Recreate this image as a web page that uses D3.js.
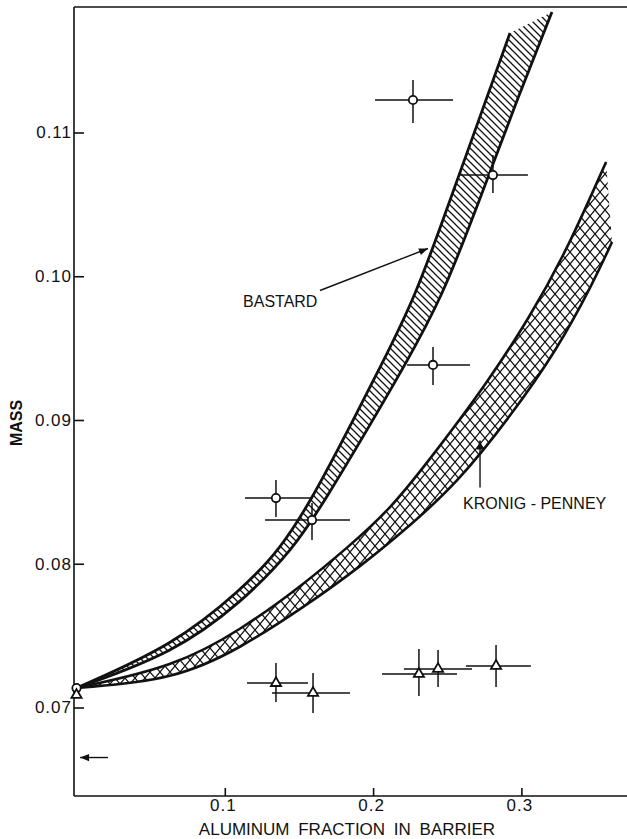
<!DOCTYPE html>
<html>
<head>
<meta charset="utf-8">
<script src="https://cdn.jsdelivr.net/npm/d3@7"></script>
<style>
  html, body { margin: 0; padding: 0; background: #fff; }
  svg { display: block; font-family: "Liberation Sans", Arial, sans-serif; }
  .tick text { font-size: 17px; letter-spacing: 1px; fill: #111; }
</style>
</head>
<body>
<div id="chart"></div>
<script>
// Bastard model band (upper / lower boundary)
const bastardUpperX = [0, 0.0657, 0.1109, 0.1372, 0.1595, 0.1831, 0.2067, 0.2282, 0.2471, 0.2640, 0.2761, 0.2923];
const bastardUpperY = [0.07136, 0.07435, 0.07817, 0.08096, 0.08464, 0.08930, 0.09405, 0.09856, 0.10391, 0.10878, 0.11226, 0.11692];
const bastardLowerX = [0, 0.0657, 0.1109, 0.1460, 0.1689, 0.1959, 0.2228, 0.2464, 0.2660, 0.2781, 0.2970, 0.3206];
const bastardLowerY = [0.07136, 0.07380, 0.07728, 0.08096, 0.08464, 0.08930, 0.09405, 0.09856, 0.10377, 0.10704, 0.11226, 0.11838];

// Kronig-Penney band
const kpUpperX = [0, 0.0657, 0.1109, 0.1534, 0.1824, 0.2114, 0.2431, 0.2768, 0.3058, 0.3308, 0.3571];
const kpUpperY = [0.07136, 0.07282, 0.07539, 0.07859, 0.08110, 0.08374, 0.08791, 0.09257, 0.09717, 0.10183, 0.10795];
const kpLowerX = [0, 0.0657, 0.1109, 0.1534, 0.1912, 0.2269, 0.2566, 0.2923, 0.3240, 0.3483, 0.3611];
const kpLowerY = [0.07136, 0.07191, 0.07414, 0.07699, 0.07977, 0.08283, 0.08562, 0.09021, 0.09487, 0.09953, 0.10238];

// measured points, circles
const circX   = [0, 0.1345, 0.1588, 0.2404, 0.2269, 0.2808];
const circY   = [0.07135, 0.08457, 0.08304, 0.09383, 0.11226, 0.10704];
const circXlo = [null, 0.1136, 0.1271, 0.2229, 0.2013, 0.2586];
const circXhi = [null, 0.1595, 0.1844, 0.2653, 0.2539, 0.3044];
const circYlo = [null, 0.08325, 0.08165, 0.09243, 0.11066, 0.10579];
const circYhi = [null, 0.08583, 0.08423, 0.09508, 0.11365, 0.10843];

// measured points, triangles
const triX   = [0, 0.1345, 0.1595, 0.2309, 0.2438, 0.2829];
const triY   = [0.07087, 0.07170, 0.07101, 0.07233, 0.07268, 0.07289];
const triXlo = [null, 0.1150, 0.1318, 0.2060, 0.2208, 0.2626];
const triXhi = [null, 0.1561, 0.1844, 0.2566, 0.2667, 0.3064];
const triYlo = [null, 0.07038, 0.06962, 0.07080, 0.07143, 0.07143];
const triYhi = [null, 0.07310, 0.07240, 0.07407, 0.07400, 0.07435];

// ticks
const xTicks = [0.1, 0.2, 0.3];
const yTicks = [0.07, 0.08, 0.09, 0.10, 0.11];

// annotations: [x0, y0, x1, y1] arrows, label anchors
const bastardArrow = [0.1642, 0.09901, 0.2370, 0.10193];
const kpArrow = [0.2721, 0.08530, 0.2721, 0.08857];
const bulkArrow = [0.0212, 0.06652, 0.0024, 0.06652];
const bastardLabel = { text: 'BASTARD', x: 0.1123, y: 0.09783 };
const kpLabel = { text: 'KRONIG - PENNEY', x: 0.2607, y: 0.08384 };

const width = 627, height = 839;
const frame = { left: 74, top: 7, right: 627, bottom: 796 };

const x = d3.scaleLinear().domain([0, 0.3]).range([76.5, 521.4]);
const y = d3.scaleLinear().domain([0.07, 0.11]).range([707.5, 132.5]);

const svg = d3.select('#chart').append('svg')
    .attr('width', width)
    .attr('height', height);

const defs = svg.append('defs');

// single hatch for Bastard
defs.append('pattern')
    .attr('id', 'hatch')
    .attr('patternUnits', 'userSpaceOnUse')
    .attr('width', 7).attr('height', 7)
  .append('path')
    .attr('d', 'M0,0L7,7M-1,6L1,8M6,-1L8,1')
    .attr('stroke', '#111')
    .attr('stroke-width', 1.3);

// cross hatch for Kronig-Penney
defs.append('pattern')
    .attr('id', 'cross')
    .attr('patternUnits', 'userSpaceOnUse')
    .attr('width', 10).attr('height', 12)
  .append('path')
    .attr('d', 'M0,0L10,12M10,0L0,12')
    .attr('stroke', '#111')
    .attr('stroke-width', 1.2);

defs.append('marker')
    .attr('id', 'arrow')
    .attr('viewBox', '0 0 10 10')
    .attr('refX', 10).attr('refY', 5)
    .attr('markerUnits', 'userSpaceOnUse')
    .attr('markerWidth', 13).attr('markerHeight', 9)
    .attr('orient', 'auto')
  .append('path')
    .attr('d', 'M0,1L10,5L0,9Z')
    .attr('fill', '#111');

const line = d3.line()
    .x(d => x(d[0]))
    .y(d => y(d[1]))
    .curve(d3.curveBasis);

function drawBand(xu, yu, xl, yl, fill, sw) {
    const upper = xu.map((v, i) => [v, yu[i]]);
    const lower = xl.map((v, i) => [v, yl[i]]);
    const outline = line(upper) + line(lower.slice().reverse()).replace('M', 'L') + 'Z';
    svg.append('path')
        .attr('d', outline)
        .attr('fill', fill);
    [upper, lower].forEach(pts => {
        svg.append('path')
            .attr('d', line(pts))
            .attr('fill', 'none')
            .attr('stroke', '#111')
            .attr('stroke-width', sw);
    });
}

drawBand(kpUpperX, kpUpperY, kpLowerX, kpLowerY, 'url(#cross)', 2.6);
drawBand(bastardUpperX, bastardUpperY, bastardLowerX, bastardLowerY, 'url(#hatch)', 2.8);

// frame lines
svg.append('line')
    .attr('x1', frame.left).attr('x2', frame.left)
    .attr('y1', frame.top).attr('y2', frame.bottom)
    .attr('stroke', '#111').attr('stroke-width', 1.6);
svg.append('line')
    .attr('x1', frame.left).attr('x2', frame.right)
    .attr('y1', frame.top).attr('y2', frame.top)
    .attr('stroke', '#111').attr('stroke-width', 1.6);
svg.append('line')
    .attr('x1', frame.left).attr('x2', frame.right)
    .attr('y1', frame.bottom).attr('y2', frame.bottom)
    .attr('stroke', '#111').attr('stroke-width', 1.6);

// axes, ticks pointing inward
const yAxis = svg.append('g')
    .attr('transform', `translate(${frame.left},0)`)
    .call(d3.axisLeft(y)
        .tickValues(yTicks)
        .tickFormat(d3.format('.2f'))
        .tickSizeInner(-10)
        .tickSizeOuter(0)
        .tickPadding(2));

const xAxis = svg.append('g')
    .attr('transform', `translate(0,${frame.bottom})`)
    .call(d3.axisBottom(x)
        .tickValues(xTicks)
        .tickFormat(d3.format('.1f'))
        .tickSizeInner(-8)
        .tickSizeOuter(0)
        .tickPadding(3));

[yAxis, xAxis].forEach(a => {
    a.select('.domain').remove();
    a.selectAll('.tick line').attr('stroke', '#111').attr('stroke-width', 1.6);
    a.selectAll('.tick text').attr('font-family', null).attr('font-size', null);
});
xAxis.selectAll('.tick text').attr('dx', '-2');

// axis titles
svg.append('text')
    .attr('x', 347)
    .attr('y', 835)
    .attr('text-anchor', 'middle')
    .attr('font-size', 17)
    .attr('word-spacing', 4)
    .attr('fill', '#111')
    .text('ALUMINUM FRACTION IN BARRIER');

svg.append('text')
    .attr('transform', 'translate(22,423) rotate(-90)')
    .attr('text-anchor', 'middle')
    .attr('font-size', 16)
    .attr('font-weight', 'bold')
    .attr('fill', '#111')
    .text('MASS');

// error bars and markers
function drawPoints(px, py, xlo, xhi, ylo, yhi, symbol) {
    const g = svg.append('g');
    px.forEach((v, i) => {
        if (xlo[i] === null) return;
        g.append('line')
            .attr('x1', x(xlo[i])).attr('x2', x(xhi[i]))
            .attr('y1', y(py[i])).attr('y2', y(py[i]))
            .attr('stroke', '#111').attr('stroke-width', 1.5);
        g.append('line')
            .attr('x1', x(v)).attr('x2', x(v))
            .attr('y1', y(ylo[i])).attr('y2', y(yhi[i]))
            .attr('stroke', '#111').attr('stroke-width', 1.5);
    });
    g.selectAll('path.pt')
        .data(px.map((v, i) => [v, py[i]]))
        .join('path')
        .attr('class', 'pt')
        .attr('transform', d => `translate(${x(d[0])},${y(d[1])})`)
        .attr('d', d3.symbol(symbol).size(symbol === d3.symbolCircle ? 55 : 45))
        .attr('fill', '#fff')
        .attr('stroke', '#111')
        .attr('stroke-width', 1.8);
}

drawPoints(circX, circY, circXlo, circXhi, circYlo, circYhi, d3.symbolCircle);
drawPoints(triX, triY, triXlo, triXhi, triYlo, triYhi, d3.symbolTriangle);

// annotation arrows
[bastardArrow, kpArrow, bulkArrow].forEach(a => {
    svg.append('line')
        .attr('x1', x(a[0])).attr('y1', y(a[1]))
        .attr('x2', x(a[2])).attr('y2', y(a[3]))
        .attr('stroke', '#111')
        .attr('stroke-width', 1.4)
        .attr('marker-end', 'url(#arrow)');
});

[bastardLabel, kpLabel].forEach(l => {
    svg.append('text')
        .attr('x', x(l.x))
        .attr('y', y(l.y))
        .attr('font-size', 16)
        .attr('fill', '#111')
        .text(l.text);
});
</script>
</body>
</html>
